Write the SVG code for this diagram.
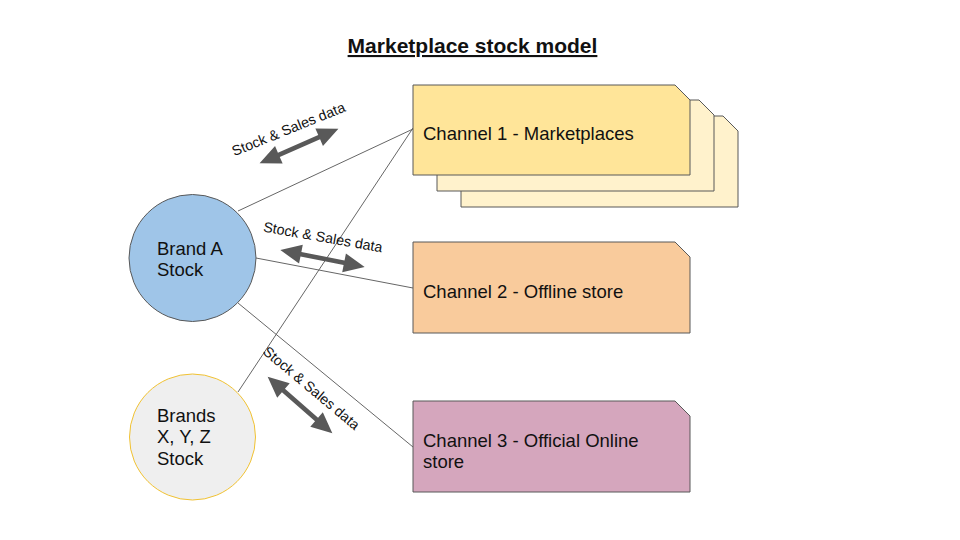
<svg xmlns="http://www.w3.org/2000/svg" xmlns:xlink="http://www.w3.org/1999/xlink" width="960" height="540" viewBox="0 0 960 540">
<style>
text{font-family:"Liberation Sans",Arial,sans-serif;fill:#111}
.node{font-size:18.5px}
.lbl{font-size:14.3px}
.conn{stroke:#666;stroke-width:1;fill:none}
.box{stroke:#595959;stroke-width:1}
.arr{fill:#595959}
</style>
<defs>
<path id="darrow" d="M-43,0 L-22,-9.5 L-22,-2.3 L22,-2.3 L22,-9.5 L43,0 L22,9.5 L22,2.3 L-22,2.3 L-22,9.5 Z"/>
</defs>
<rect width="960" height="540" fill="#fff"/>
<text x="472.5" y="53" text-anchor="middle" font-size="21" font-weight="bold" text-decoration="underline">Marketplace stock model</text>

<g id="connectors">
<line class="conn" x1="238" y1="211" x2="413" y2="129"/>
<line class="conn" x1="256" y1="258" x2="413" y2="288"/>
<line class="conn" x1="238" y1="303" x2="413" y2="447"/>
<line class="conn" x1="238" y1="392" x2="413" y2="128"/>
</g>

<g id="arrows">
<use xlink:href="#darrow" class="arr" transform="translate(299,146) rotate(-23.6)"/>
<use xlink:href="#darrow" class="arr" transform="translate(322.5,258.5) rotate(11.3)"/>
<use xlink:href="#darrow" class="arr" transform="translate(300,405) rotate(41.2)"/>
<text class="lbl" text-anchor="middle" transform="translate(288.5,129) rotate(-22)" y="5">Stock &amp; Sales data</text>
<text class="lbl" text-anchor="middle" transform="translate(323,237) rotate(10)" y="5">Stock &amp; Sales data</text>
<text class="lbl" text-anchor="middle" transform="translate(311.5,388) rotate(40)" y="5">Stock &amp; Sales data</text>
</g>

<g id="channel1">
<path class="box" fill="#FFF2CC" d="M461,116 H723 L738,131 V207 H461 Z"/>
<path class="box" fill="#FFF2CC" d="M437,100 H699 L714,115 V191 H437 Z"/>
<path class="box" fill="#FFE599" d="M413,85 H675 L690,100 V175 H413 Z"/>
<text class="node" x="423" y="140">Channel 1 - Marketplaces</text>
</g>

<g id="channel2">
<path class="box" fill="#F9CB9C" d="M413,242 H675 L690,257 V333 H413 Z"/>
<text class="node" x="423" y="298">Channel 2 - Offline store</text>
</g>

<g id="channel3">
<path class="box" fill="#D5A6BD" d="M413,401 H675 L690,416 V492 H413 Z"/>
<text class="node" x="423" y="447">Channel 3 - Official Online</text>
<text class="node" x="423" y="468">store</text>
</g>

<g id="brandA">
<circle cx="192.5" cy="258" r="63.5" fill="#9FC5E8" stroke="#595959" stroke-width="1"/>
<text class="node" x="157" y="255">Brand A</text>
<text class="node" x="157" y="276">Stock</text>
</g>

<g id="brandsXYZ">
<circle cx="192.5" cy="437" r="63" fill="#EFEFEF" stroke="#F1C232" stroke-width="1"/>
<text class="node" x="157" y="422">Brands</text>
<text class="node" x="157" y="443">X, Y, Z</text>
<text class="node" x="157" y="465">Stock</text>
</g>
</svg>
